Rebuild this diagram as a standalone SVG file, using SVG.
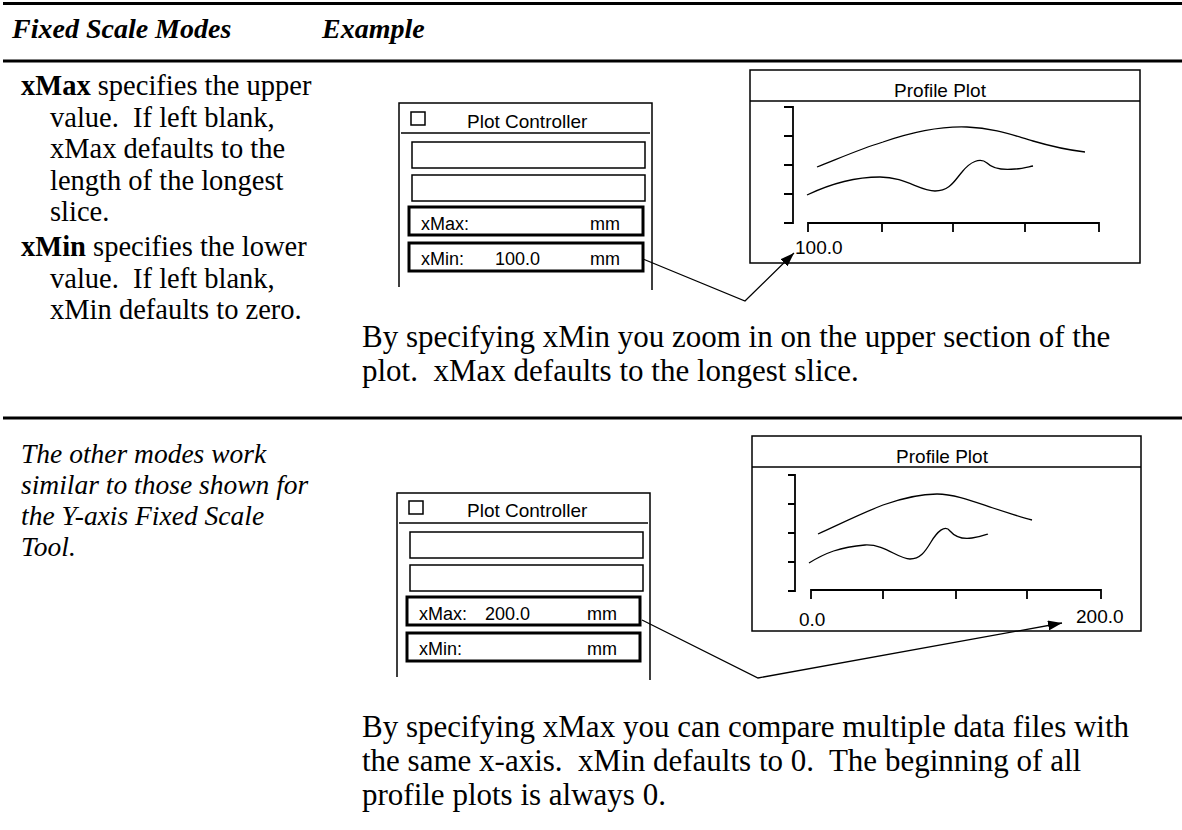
<svg xmlns="http://www.w3.org/2000/svg" width="1182" height="830" viewBox="0 0 1182 830">
<defs>
<style>
text{white-space:pre}
.hd{font-family:"Liberation Serif","Times New Roman",serif;font-weight:bold;font-style:italic;font-size:28px;fill:#000}
.bd{font-family:"Liberation Serif","Times New Roman",serif;font-size:28.5px;fill:#000}
.it{font-family:"Liberation Serif","Times New Roman",serif;font-style:italic;font-size:27.5px;fill:#000}
.pa{font-family:"Liberation Serif","Times New Roman",serif;font-size:31px;fill:#000}
.ui{font-family:"Liberation Sans",Arial,sans-serif;font-size:18px;fill:#000}
.uit{font-family:"Liberation Sans",Arial,sans-serif;font-size:19px;fill:#000}
.pt{font-family:"Liberation Sans",Arial,sans-serif;font-size:19px;fill:#000}
.rule{stroke:#000;stroke-width:3;fill:none}
.frame{stroke:#000;stroke-width:1.5;fill:none}
.fld{stroke:#000;stroke-width:1.5;fill:#fff}
.fldb{stroke:#000;stroke-width:3;fill:#fff}
.ax{stroke:#000;stroke-width:1.8;fill:none}
.crv{stroke:#000;stroke-width:1.3;fill:none}
.con{stroke:#000;stroke-width:1.3;fill:none}
</style>
<marker id="ah" viewBox="0 0 14 10" refX="14" refY="5" markerWidth="14" markerHeight="10" markerUnits="userSpaceOnUse" orient="auto">
<path d="M0,0 L14,5 L0,10 z" fill="#000"/>
</marker>
</defs>
<rect width="1182" height="830" fill="#fff"/>

<g id="header">
<line class="rule" x1="3" y1="3.5" x2="1182" y2="3.5"/>
<text class="hd" x="12" y="38">Fixed Scale Modes</text>
<text class="hd" x="322" y="38">Example</text>
<line class="rule" x1="3" y1="61" x2="1182" y2="61"/>
</g>

<g id="left-text-1">
<text class="bd" x="21" y="95"><tspan font-weight="bold">xMax</tspan> specifies the upper</text>
<text class="bd" x="50" y="126.5">value.  If left blank,</text>
<text class="bd" x="50" y="158">xMax defaults to the</text>
<text class="bd" x="50" y="189.5">length of the longest</text>
<text class="bd" x="50" y="221">slice.</text>
<text class="bd" x="21" y="256"><tspan font-weight="bold">xMin</tspan> specifies the lower</text>
<text class="bd" x="50" y="287.5">value.  If left blank,</text>
<text class="bd" x="50" y="319">xMin defaults to zero.</text>
</g>

<g id="plot-controller-1">
<path class="frame" d="M399,287 V103 H652 V290"/>
<line class="frame" x1="401" y1="133" x2="650" y2="133"/>
<rect class="frame" x="411" y="112" width="14" height="13"/>
<text class="uit" x="467" y="128">Plot Controller</text>
<rect class="fld" x="412" y="142" width="233" height="26"/>
<rect class="fld" x="412" y="175" width="233" height="26"/>
<rect class="fldb" x="409" y="207" width="234" height="28"/>
<text class="ui" x="421" y="230">xMax:</text>
<text class="ui" x="620" y="230" text-anchor="end">mm</text>
<rect class="fldb" x="409" y="243" width="234" height="28"/>
<text class="ui" x="421" y="265">xMin:</text>
<text class="ui" x="495" y="265">100.0</text>
<text class="ui" x="620" y="265" text-anchor="end">mm</text>
</g>

<g id="profile-plot-1">
<rect class="frame" x="750" y="70" width="390" height="193"/>
<line class="frame" x1="750" y1="101" x2="1140" y2="101"/>
<text class="pt" x="940" y="97" text-anchor="middle">Profile Plot</text>
<path class="ax" d="M784,107 H793 V223 H784 M784,136 H793 M784,165 H793 M784,194 H793"/>
<path class="ax" d="M808,232 V223 H1099 V232 M882,223 V232 M953,223 V232 M1025,223 V232"/>
<text class="pt" x="795" y="254">100.0</text>
<path class="crv" d="M817,167 C840,158 860,149 883,142 C915,131 940,126 967,127 C995,128 1015,136 1033,141 C1050,146 1068,150 1085,152"/>
<path class="crv" d="M807,195 C830,184 855,177 880,177 C905,177 920,191 935,191 C950,191 955,180 962,172 C970,162 980,157 987,163 C994,170 1005,170 1015,169 C1022,169 1028,167 1033,166"/>
</g>

<g id="para-1">
<text class="pa" x="362" y="347">By specifying xMin you zoom in on the upper section of the</text>
<text class="pa" x="362" y="381">plot.  xMax defaults to the longest slice.</text>
</g>

<line id="section-rule" class="rule" x1="3" y1="418" x2="1182" y2="418"/>

<g id="left-text-2">
<text class="it" x="21" y="463">The other modes work</text>
<text class="it" x="21" y="494">similar to those shown for</text>
<text class="it" x="21" y="525">the Y-axis Fixed Scale</text>
<text class="it" x="21" y="556">Tool.</text>
</g>

<g id="plot-controller-2">
<path class="frame" d="M397,677 V493 H650 V680"/>
<line class="frame" x1="399" y1="523" x2="648" y2="523"/>
<rect class="frame" x="409" y="501" width="14" height="13"/>
<text class="uit" x="467" y="517">Plot Controller</text>
<rect class="fld" x="410" y="532" width="233" height="26"/>
<rect class="fld" x="410" y="565" width="233" height="26"/>
<rect class="fldb" x="407" y="597" width="233" height="28"/>
<text class="ui" x="419" y="620">xMax:</text>
<text class="ui" x="485" y="620">200.0</text>
<text class="ui" x="617" y="620" text-anchor="end">mm</text>
<rect class="fldb" x="407" y="633" width="233" height="28"/>
<text class="ui" x="419" y="655">xMin:</text>
<text class="ui" x="617" y="655" text-anchor="end">mm</text>
</g>

<g id="profile-plot-2">
<rect class="frame" x="752" y="436" width="389" height="195"/>
<line class="frame" x1="752" y1="467" x2="1141" y2="467"/>
<text class="pt" x="942" y="463" text-anchor="middle">Profile Plot</text>
<path class="ax" d="M788,475 H795 V591 H788 M788,504 H795 M788,533 H795 M788,562 H795"/>
<path class="ax" d="M811,599 V590 H1101 V599 M883,590 V599 M956,590 V599 M1027,590 V599"/>
<text class="pt" x="799" y="626">0.0</text>
<text class="pt" x="1076" y="623">200.0</text>
<path class="crv" d="M818,534 C840,524 860,514 883,505 C900,499 920,494 937,494 C955,494 975,502 993,508 C1008,513 1020,517 1032,520"/>
<path class="crv" d="M809,563 C825,553 840,547 865,545 C885,544 898,559 910,559 C920,559 925,552 931,542 C937,532 945,524 950,531 C956,538 965,539 972,538 C980,537 985,535 988,534"/>
</g>

<g id="para-2">
<text class="pa" x="362" y="737">By specifying xMax you can compare multiple data files with</text>
<text class="pa" x="362" y="771">the same x-axis.  xMin defaults to 0.  The beginning of all</text>
<text class="pa" x="362" y="805">profile plots is always 0.</text>
</g>

<g id="connectors">
<polyline class="con" points="643,259 745,301 794,253" marker-end="url(#ah)"/>
<polyline class="con" points="642,620 758,678 1062,623" marker-end="url(#ah)"/>
</g>
</svg>
